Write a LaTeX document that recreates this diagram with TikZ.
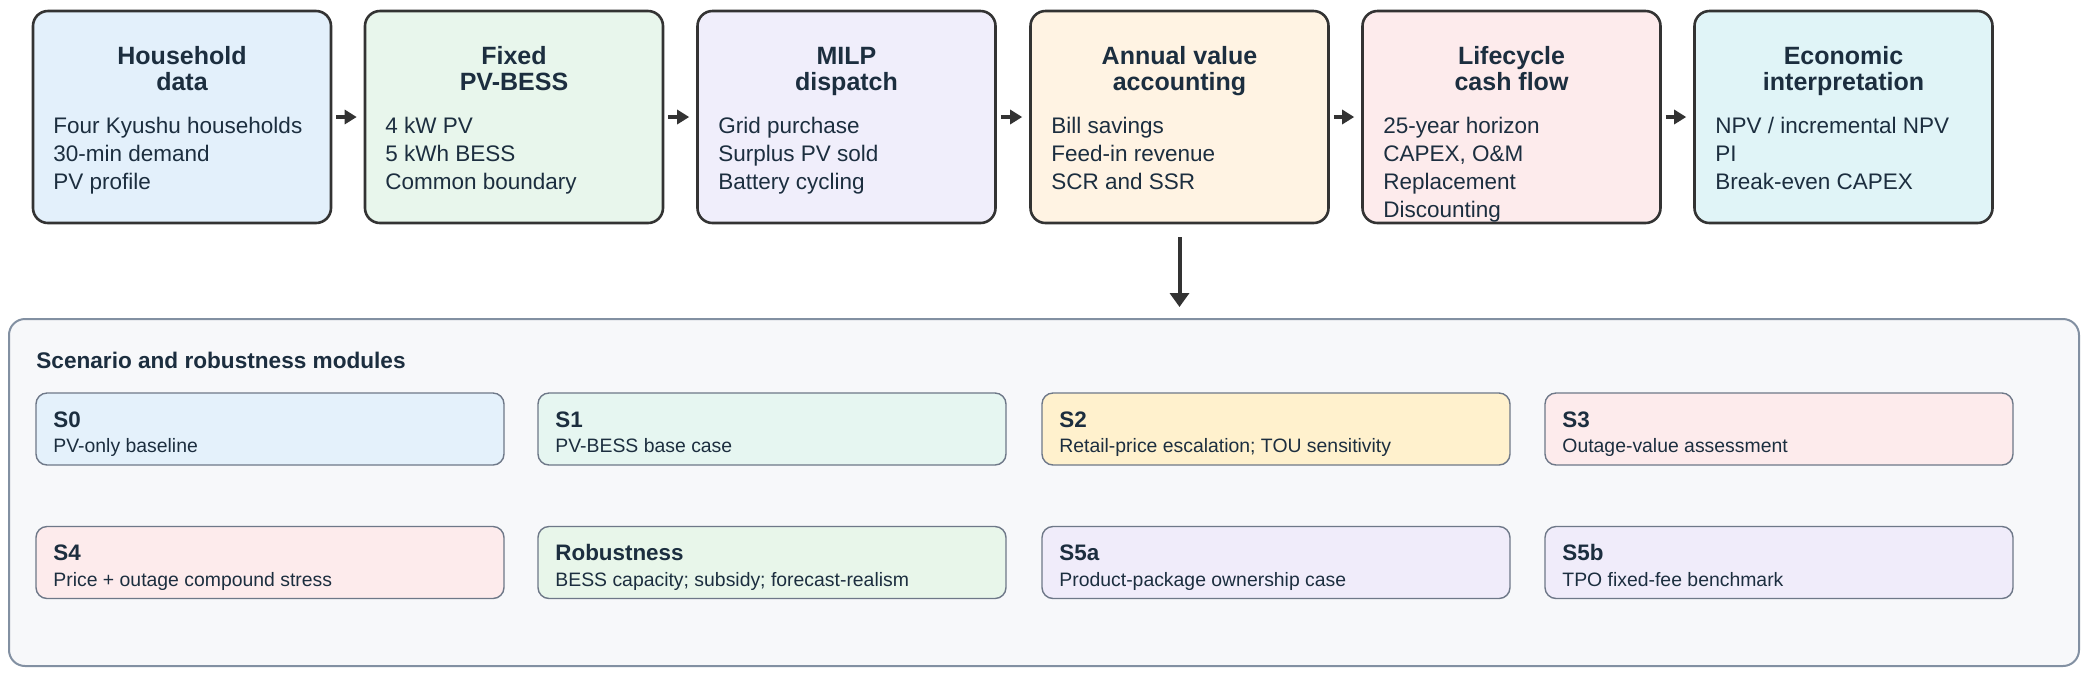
\documentclass[tikz,border=0pt]{standalone}
\usepackage{fontspec}
\setmainfont{Liberation Sans}
\usetikzlibrary{arrows.meta}
\definecolor{ink}{HTML}{1C2E3F}
\definecolor{boxline}{HTML}{333333}
\definecolor{modline}{HTML}{6E7888}
\definecolor{contline}{HTML}{8290A2}
\definecolor{contfill}{HTML}{F7F8FA}
\definecolor{cA}{HTML}{E3F0FB}
\definecolor{cB}{HTML}{E8F6EC}
\definecolor{cC}{HTML}{F0EEFB}
\definecolor{cD}{HTML}{FFF3E3}
\definecolor{cE}{HTML}{FDEBEC}
\definecolor{cF}{HTML}{E0F4F7}
\definecolor{mS0}{HTML}{E4F1FB}
\definecolor{mS1}{HTML}{E6F6F1}
\definecolor{mS2}{HTML}{FFF1CD}
\definecolor{mS3}{HTML}{FDEBEC}
\definecolor{mR}{HTML}{E8F6EA}
\definecolor{mS5}{HTML}{F0ECFA}
\tikzset{
  topbox/.style={draw=boxline, line width=1.3pt, rounded corners=7.5pt,
    minimum width=149pt, minimum height=106pt, inner sep=0pt},
  ttl/.style={anchor=base, inner sep=0pt, text=ink, font=\bfseries\fontsize{12.5}{13}\selectfont},
  body/.style={anchor=base west, inner sep=0pt, text=ink, font=\fontsize{11.25}{14}\selectfont},
  modbox/.style={draw=modline, line width=0.7pt, rounded corners=5.5pt,
    minimum width=234pt, minimum height=36pt, inner sep=0pt},
  mttl/.style={anchor=base west, inner sep=0pt, text=ink, font=\bfseries\fontsize{11.2}{13}\selectfont},
  mdesc/.style={anchor=base west, inner sep=0pt, text=ink, font=\fontsize{9.7}{12}\selectfont},
  flow/.style={draw=boxline, line width=2pt, -{Triangle[length=6pt,width=7pt]}},
  downflow/.style={draw=boxline, line width=2pt, -{Triangle[length=7pt,width=9.5pt]}},
}
\begin{document}
\begin{tikzpicture}[x=0.5pt,y=-0.5pt]
\useasboundingbox (0,0) rectangle (2090,677);
\fill[white] (0,0) rectangle (2090,677);
% top boxes
\node[topbox, fill=cA] (b1) at (182,117) {};
\node[topbox, fill=cB] (b2) at (514,117) {};
\node[topbox, fill=cC] (b3) at (846.5,117) {};
\node[topbox, fill=cD] (b4) at (1179.5,117) {};
\node[topbox, fill=cE] (b5) at (1511.5,117) {};
\node[topbox, fill=cF] (b6) at (1843.5,117) {};
% titles
\node[ttl] (t1a) at (182,64) {Household};
\node[ttl] (t1b) at (182,90) {data};
\node[ttl] (t2a) at (514,64) {Fixed};
\node[ttl] (t2b) at (514,90) {PV-BESS};
\node[ttl] (t3a) at (846.5,64) {MILP};
\node[ttl] (t3b) at (846.5,90) {dispatch};
\node[ttl] (t4a) at (1179.5,64) {Annual value};
\node[ttl] (t4b) at (1179.5,90) {accounting};
\node[ttl] (t5a) at (1511.5,64) {Lifecycle};
\node[ttl] (t5b) at (1511.5,90) {cash flow};
\node[ttl] (t6a) at (1843.5,64) {Economic};
\node[ttl] (t6b) at (1843.5,90) {interpretation};
% bodies
\node[body] (d1a) at (53,133) {Four Kyushu households};
\node[body] (d1b) at (53,161) {30-min demand};
\node[body] (d1c) at (53,189) {PV profile};
\node[body] (d2a) at (385,133) {4 kW PV};
\node[body] (d2b) at (385,161) {5 kWh BESS};
\node[body] (d2c) at (385,189) {Common boundary};
\node[body] (d3a) at (718,133) {Grid purchase};
\node[body] (d3b) at (718,161) {Surplus PV sold};
\node[body] (d3c) at (718,189) {Battery cycling};
\node[body] (d4a) at (1051,133) {Bill savings};
\node[body] (d4b) at (1051,161) {Feed-in revenue};
\node[body] (d4c) at (1051,189) {SCR and SSR};
\node[body] (d5a) at (1383,133) {25-year horizon};
\node[body] (d5b) at (1383,161) {CAPEX, O\&M};
\node[body] (d5c) at (1383,189) {Replacement};
\node[body] (d5d) at (1383,217) {Discounting};
\node[body] (d6a) at (1715,133) {NPV / incremental NPV};
\node[body] (d6b) at (1715,161) {PI};
\node[body] (d6c) at (1715,189) {Break-even CAPEX};
% arrows between boxes
\foreach \a/\b in {b1/b2,b2/b3,b3/b4,b4/b5,b5/b6}
  \draw[flow, shorten <=2pt, shorten >=3.5pt] (\a.east) -- (\b.west);
% container
\node[draw=contline, fill=contfill, line width=1pt, rounded corners=8pt,
  minimum width=1035pt, minimum height=173.5pt, inner sep=0pt] (scen) at (1044,492.5) {};
\draw[downflow, shorten <=6.5pt, shorten >=5.5pt] (b4.south) -- (b4.south |- scen.north);
\node[mttl, font=\bfseries\fontsize{11.3}{13}\selectfont] (stitle) at (36,368) {Scenario and robustness modules};
% modules
\node[modbox, fill=mS0] (m0) at (270,429) {};
\node[modbox, fill=mS1] (m1) at (772,429) {};
\node[modbox, fill=mS2] (m2) at (1276,429) {};
\node[modbox, fill=mS3] (m3) at (1779,429) {};
\node[modbox, fill=mS3] (m4) at (270,562.5) {};
\node[modbox, fill=mR] (m5) at (772,562.5) {};
\node[modbox, fill=mS5] (m6) at (1276,562.5) {};
\node[modbox, fill=mS5] (m7) at (1779,562.5) {};
\node[mttl] (m0t) at (53,427) {S0};
\node[mdesc] (m0d) at (53,452) {PV-only baseline};
\node[mttl] (m1t) at (555,427) {S1};
\node[mdesc] (m1d) at (555,452) {PV-BESS base case};
\node[mttl] (m2t) at (1059,427) {S2};
\node[mdesc] (m2d) at (1059,452) {Retail-price escalation; TOU sensitivity};
\node[mttl] (m3t) at (1562,427) {S3};
\node[mdesc] (m3d) at (1562,452) {Outage-value assessment};
\node[mttl] (m4t) at (53,560) {S4};
\node[mdesc] (m4d) at (53,586) {Price + outage compound stress};
\node[mttl] (m5t) at (555,560) {Robustness};
\node[mdesc] (m5d) at (555,586) {BESS capacity; subsidy; forecast-realism};
\node[mttl] (m6t) at (1059,560) {S5a};
\node[mdesc] (m6d) at (1059,586) {Product-package ownership case};
\node[mttl] (m7t) at (1562,560) {S5b};
\node[mdesc] (m7d) at (1562,586) {TPO fixed-fee benchmark};
\end{tikzpicture}
\end{document}
